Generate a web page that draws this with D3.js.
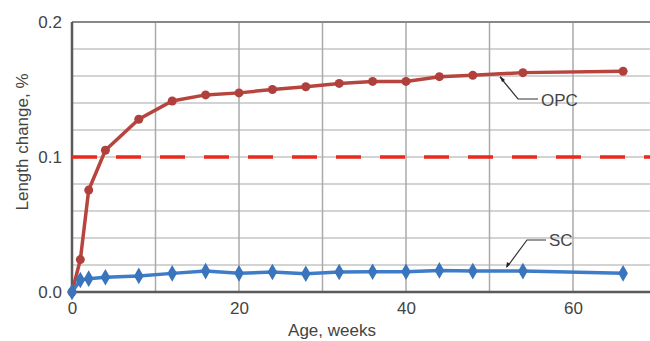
<!DOCTYPE html>
<html><head><meta charset="utf-8">
<script src="https://cdn.jsdelivr.net/npm/d3@7"></script>
<style>body{margin:0;background:#fff}svg{display:block}text{font-family:"Liberation Sans",Arial,sans-serif;fill:#444}</style>
</head><body><svg id="c" width="650" height="341"></svg>
<script>
const weeks = [0, 1, 2, 4, 8, 12, 16, 20, 24, 28, 32, 36, 40, 44, 48, 54, 66];
const opc = [0, 0.024, 0.0755, 0.105, 0.128, 0.1415, 0.146, 0.1475, 0.150, 0.152, 0.1545, 0.156, 0.156, 0.1595, 0.1605, 0.1625, 0.1635];
const sc  = [0, 0.0089, 0.0099, 0.0109, 0.0119, 0.0138, 0.0155, 0.0138, 0.0148, 0.0135, 0.0148, 0.0150, 0.0150, 0.0160, 0.0155, 0.0155, 0.0138];
const limit = 0.1;
const xTicks = [0, 20, 40, 60];
const yTicks = [0, 0.1, 0.2];

const svg = d3.select("#c");
const x = d3.scaleLinear().domain([0, 70]).range([72, 656.5]);
const y = d3.scaleLinear().domain([0, 0.2]).range([292, 22]);

// grid
const g = svg.append("g");
g.selectAll("line.h").data(d3.range(0.02, 0.2, 0.02)).join("line")
  .attr("x1", x(0)).attr("x2", 650).attr("y1", d => y(d)).attr("y2", d => y(d))
  .attr("stroke", "#c4c4c4").attr("stroke-width", 1.5);
g.selectAll("line.v").data(d3.range(10, 70, 10)).join("line")
  .attr("x1", d => x(d)).attr("x2", d => x(d)).attr("y1", y(0)).attr("y2", y(0.2))
  .attr("stroke", "#aaaaaa").attr("stroke-width", 1.5);
// top border
svg.append("line").attr("x1", x(0)).attr("x2", 650).attr("y1", y(0.2)).attr("y2", y(0.2))
  .attr("stroke", "#888").attr("stroke-width", 2);

// axes
const xAxis = svg.append("g").attr("transform", `translate(0,${y(0)})`)
  .call(d3.axisBottom(x).tickValues(xTicks).tickSize(0).tickPadding(10).tickFormat(d3.format("d")));
xAxis.select(".domain").remove();
xAxis.selectAll("text").style("font-size", "17px").attr("fill", "#444");
const yAxis = svg.append("g").attr("transform", `translate(${x(0)},0)`)
  .call(d3.axisLeft(y).tickValues(yTicks).tickSize(0).tickPadding(10).tickFormat(d3.format(".1f")));
yAxis.select(".domain").remove();
yAxis.selectAll("text").style("font-size", "17px").attr("fill", "#444");

svg.append("line").attr("x1", x(0)).attr("x2", 650).attr("y1", y(0)).attr("y2", y(0))
  .attr("stroke", "#5a5a5a").attr("stroke-width", 2.5);
svg.append("line").attr("x1", x(0)).attr("x2", x(0)).attr("y1", y(0)+1).attr("y2", y(0.2))
  .attr("stroke", "#5a5a5a").attr("stroke-width", 2.5);

// limit line
svg.append("line").attr("x1", x(0)).attr("x2", 650).attr("y1", y(limit)).attr("y2", y(limit))
  .attr("stroke", "#e8291c").attr("stroke-width", 3.5).attr("stroke-dasharray", "25,19");

const line = d3.line().x((d, i) => x(weeks[i])).y(d => y(d));
// OPC
svg.append("path").datum(opc).attr("d", line).attr("fill", "none")
  .attr("stroke", "#b8443e").attr("stroke-width", 3.5);
svg.selectAll("circle.opc").data(opc).join("circle")
  .attr("cx", (d, i) => x(weeks[i])).attr("cy", d => y(d)).attr("r", 4.5)
  .attr("fill", "#b0403b");
// SC
svg.append("path").datum(sc).attr("d", line).attr("fill", "none")
  .attr("stroke", "#3d7cc9").attr("stroke-width", 3.5);
const diamond = d3.symbol().type(d3.symbolDiamond).size(80);
svg.selectAll("path.sc").data(sc).join("path")
  .attr("transform", (d, i) => `translate(${x(weeks[i])},${y(d)})`)
  .attr("d", diamond).attr("fill", "#3a74bd");

// annotations
svg.append("path").attr("d", "M500,77 L518,99 L538,99").attr("fill", "none").attr("stroke", "#333").attr("stroke-width", 1.2);
svg.append("path").attr("d", "M500,76 L505,80 L502,82 Z").attr("fill", "#222");
svg.append("text").attr("x", 541).attr("y", 106).text("OPC").style("font-size", "17px");
svg.append("path").attr("d", "M507,267 L527,240 L546,240").attr("fill", "none").attr("stroke", "#333").attr("stroke-width", 1.2);
svg.append("path").attr("d", "M506,268 L507,262 L510,264 Z").attr("fill", "#222");
svg.append("text").attr("x", 549).attr("y", 246).text("SC").style("font-size", "17px");

// axis titles
svg.append("text").attr("x", 332).attr("y", 336).attr("text-anchor", "middle").text("Age, weeks").style("font-size", "17px");
svg.append("text").attr("transform", "translate(28,142) rotate(-90)").attr("text-anchor", "middle").text("Length change, %").style("font-size", "17px");
</script></body></html>
